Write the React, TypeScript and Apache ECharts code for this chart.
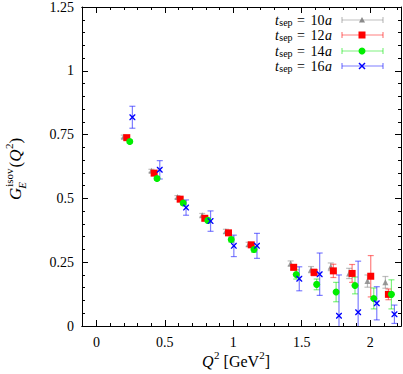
import React, { useEffect, useRef } from "react";
import * as echarts from "echarts";

// ---- data ----
const SERIES_NAMES = ["10", "12", "14", "16"];

const X10 = [0.200, 0.402, 0.592, 0.773, 0.946, 1.112, 1.419, 1.568, 1.712, 1.846, 1.980, 2.111];
const Y10 = [0.742, 0.608, 0.505, 0.434, 0.371, 0.320, 0.245, 0.221, 0.232, 0.206, 0.176, 0.171];
const E10 = [0.006, 0.006, 0.006, 0.007, 0.008, 0.008, 0.010, 0.012, 0.015, 0.020, 0.024, 0.023];

const X12 = [0.222, 0.422, 0.612, 0.792, 0.965, 1.131, 1.441, 1.590, 1.731, 1.868, 2.004, 2.133];
const Y12 = [0.738, 0.599, 0.497, 0.422, 0.365, 0.318, 0.230, 0.210, 0.216, 0.206, 0.195, 0.124];
const E12 = [0.005, 0.005, 0.006, 0.007, 0.008, 0.009, 0.010, 0.013, 0.026, 0.035, 0.081, 0.021];

const X14 = [0.244, 0.443, 0.634, 0.814, 0.985, 1.151, 1.460, 1.609, 1.751, 1.889, 2.026, 2.155];
const Y14 = [0.723, 0.578, 0.482, 0.414, 0.339, 0.300, 0.202, 0.163, 0.133, 0.159, 0.108, 0.124];
const E14 = [0.006, 0.007, 0.008, 0.009, 0.010, 0.011, 0.018, 0.021, 0.038, 0.033, 0.041, 0.057];

const X16 = [0.263, 0.463, 0.655, 0.834, 1.004, 1.173, 1.482, 1.631, 1.772, 1.912, 2.048, 2.177];
const Y16 = [0.818, 0.612, 0.464, 0.411, 0.314, 0.314, 0.185, 0.203, 0.040, 0.054, 0.089, 0.046];
const E16 = [0.043, 0.036, 0.030, 0.040, 0.042, 0.049, 0.047, 0.083, 0.160, 0.200, 0.065, 0.036];

const X_MAJOR = [0, 0.5, 1, 1.5, 2];
const X_MINOR = [0.1, 0.2, 0.3, 0.4, 0.6, 0.7, 0.8, 0.9, 1.1, 1.2, 1.3, 1.4, 1.6, 1.7, 1.8, 1.9, 2.1, 2.2];

const FONT = "Liberation Serif";

const X_STAR = "path://M0,0L1.6,0L5,3.4L8.4,0L10,0L10,1.6L6.6,5L10,8.4L10,10L8.4,10L5,6.6L1.6,10L0,10L0,8.4L3.4,5L0,1.6Z";

const STYLES = [
  { color: "#8a8a8a", err: "rgba(128,128,128,0.5)", symbol: "triangle", size: 6 },
  { color: "#ff0000", err: "rgba(255,0,0,0.5)", symbol: "rect", size: 7 },
  { color: "#00ee00", err: "rgba(0,230,0,0.5)", symbol: "circle", size: 7 },
  { color: "#0000ff", err: "rgba(40,40,255,0.6)", symbol: X_STAR, size: 6 },
];

const DATA = [
  [X10, Y10, E10],
  [X12, Y12, E12],
  [X14, Y14, E14],
  [X16, Y16, E16],
];

type Piece = { t: string; s: number; it?: boolean; dy?: number; gap?: number };

export default function App() {
  const ref = useRef<HTMLDivElement>(null);
  useEffect(() => {
    if (!ref.current) return;
    const chart = echarts.init(ref.current, null, { renderer: "svg" });
    const XMIN = -0.105;
    const XMAX = 2.225;

    const cv = document.createElement("canvas");
    const ctx = cv.getContext("2d")!;
    const measure = (p: Piece) => {
      ctx.font = `${p.it ? "italic " : ""}${p.s}px "${FONT}"`;
      return ctx.measureText(p.t).width;
    };
    const textEl = (p: Piece, x: number, y: number) => ({
      type: "text",
      x,
      y: y + (p.dy || 0),
      style: {
        text: p.t,
        fontFamily: FONT,
        fontSize: p.s,
        fontStyle: p.it ? "italic" : "normal",
        fill: "#000",
        align: "left",
        verticalAlign: "middle",
      },
    });
    const layout = (pieces: Piece[], x0: number, y: number, align: "left" | "right" | "center") => {
      const widths = pieces.map((p) => measure(p) + (p.gap || 0));
      const total = widths.reduce((a, b) => a + b, 0);
      let x = align === "left" ? x0 : align === "right" ? x0 - total : x0 - total / 2;
      const els: any[] = [];
      pieces.forEach((p, i) => {
        els.push(textEl(p, x, y));
        x += widths[i];
      });
      return els;
    };

    const baseX = (extra: any) => ({
      type: "value",
      min: XMIN,
      max: XMAX,
      splitLine: { show: false },
      axisLine: { show: true, onZero: false, lineStyle: { color: "#000", width: 1 } },
      ...extra,
    });
    const xAxes = [
      baseX({
        position: "bottom",
        axisTick: { show: true, inside: true, length: 6, customValues: X_MAJOR, lineStyle: { color: "#000" } },
        axisLabel: { show: true, customValues: X_MAJOR, fontFamily: FONT, fontSize: 14, color: "#000", margin: 9 },
      }),
      baseX({
        position: "bottom",
        axisTick: { show: true, inside: true, length: 3, customValues: X_MINOR, lineStyle: { color: "#000" } },
        axisLabel: { show: false },
      }),
      baseX({
        position: "top",
        axisTick: { show: true, inside: true, length: 6, customValues: X_MAJOR, lineStyle: { color: "#000" } },
        axisLabel: { show: false },
      }),
      baseX({
        position: "top",
        axisTick: { show: true, inside: true, length: 3, customValues: X_MINOR, lineStyle: { color: "#000" } },
        axisLabel: { show: false },
      }),
    ];
    const baseY = (pos: string, label: boolean) => ({
      type: "value",
      position: pos,
      min: 0,
      max: 1.25,
      interval: 0.25,
      splitLine: { show: false },
      axisLine: { show: true, onZero: false, lineStyle: { color: "#000", width: 1 } },
      axisTick: { show: true, inside: true, length: 6, lineStyle: { color: "#000" } },
      minorTick: { show: true, splitNumber: 5, length: 3, lineStyle: { color: "#000" } },
      axisLabel: { show: label, fontFamily: FONT, fontSize: 14, color: "#000", margin: 8 },
    });

    const series: any[] = [];
    DATA.forEach(([xs, ys, es], i) => {
      const st = STYLES[i];
      series.push({
        type: "custom",
        xAxisIndex: 0,
        yAxisIndex: 0,
        clip: true,
        data: xs.map((x, k) => [x, ys[k], es[k]]),
        encode: { x: 0, y: 1 },
        renderItem: (params: any, api: any) => {
          const x = api.value(0);
          const y = api.value(1);
          const e = api.value(2);
          const top = api.coord([x, y + e]);
          const bot = api.coord([x, y - e]);
          const cap = 3;
          const style = { stroke: st.err, lineWidth: 1.2 };
          return {
            type: "group",
            children: [
              { type: "line", shape: { x1: top[0], y1: top[1], x2: bot[0], y2: bot[1] }, style },
              { type: "line", shape: { x1: top[0] - cap, y1: top[1], x2: top[0] + cap, y2: top[1] }, style },
              { type: "line", shape: { x1: bot[0] - cap, y1: bot[1], x2: bot[0] + cap, y2: bot[1] }, style },
            ],
          };
        },
        z: 2,
      });
      series.push({
        type: "scatter",
        name: SERIES_NAMES[i],
        xAxisIndex: 0,
        yAxisIndex: 0,
        data: xs.map((x, k) => [x, ys[k]]),
        symbol: st.symbol,
        symbolSize: st.size,
        itemStyle: { color: st.color, opacity: i === 0 ? 0.85 : 1 },
        z: 3,
      });
    });

    const legendYs = [20, 35, 51, 66];
    const graphics: any[] = [];
    SERIES_NAMES.forEach((nm, i) => {
      const st = STYLES[i];
      const y = legendYs[i];
      graphics.push(
        ...layout(
          [
            { t: "t", s: 14, it: true, gap: 0.5 },
            { t: "sep", s: 10, dy: 2.5, gap: 1 },
            { t: " =", s: 14, gap: 2 },
            { t: ` ${nm}`, s: 14, gap: 0.5 },
            { t: "a", s: 14, it: true },
          ],
          332,
          y,
          "right"
        )
      );
      const ls = { stroke: st.err, lineWidth: 1.2 };
      graphics.push({ type: "line", shape: { x1: 342, y1: y, x2: 383, y2: y }, style: ls });
      graphics.push({ type: "line", shape: { x1: 342, y1: y - 3, x2: 342, y2: y + 3 }, style: ls });
      graphics.push({ type: "line", shape: { x1: 383, y1: y - 3, x2: 383, y2: y + 3 }, style: ls });
    });
    const mx = 362;
    graphics.push({ type: "polygon", shape: { points: [[mx, legendYs[0] - 3], [mx + 3, legendYs[0] + 2.5], [mx - 3, legendYs[0] + 2.5]] }, style: { fill: STYLES[0].color } });
    graphics.push({ type: "rect", shape: { x: mx - 3.5, y: legendYs[1] - 3.5, width: 7, height: 7 }, style: { fill: STYLES[1].color } });
    graphics.push({ type: "circle", shape: { cx: mx, cy: legendYs[2], r: 3.5 }, style: { fill: STYLES[2].color } });
    graphics.push({ type: "line", shape: { x1: mx - 3, y1: legendYs[3] - 3, x2: mx + 3, y2: legendYs[3] + 3 }, style: { stroke: STYLES[3].color, lineWidth: 1.5 } });
    graphics.push({ type: "line", shape: { x1: mx - 3, y1: legendYs[3] + 3, x2: mx + 3, y2: legendYs[3] - 3 }, style: { stroke: STYLES[3].color, lineWidth: 1.5 } });

    // x axis name
    graphics.push(
      ...layout(
        [
          { t: "Q", s: 16, it: true, gap: 0.5 },
          { t: "2", s: 11, dy: -6 },
          { t: " [GeV", s: 16 },
          { t: "2", s: 11, dy: -6 },
          { t: "]", s: 16 },
        ],
        236,
        361,
        "center"
      )
    );

    // y axis name (rotated group; local x runs upward on screen)
    const gP: Piece = { t: "G", s: 17, it: true };
    const isovP: Piece = { t: "isov", s: 11, dy: -6.5 };
    const eP: Piece = { t: "E", s: 11, it: true, dy: 6.5 };
    const wG = measure(gP);
    const wStack = Math.max(measure(isovP) + 1, measure(eP));
    const yChildren: any[] = [
      textEl(gP, 0, 0),
      textEl(isovP, wG + 1, 0),
      textEl(eP, wG - 1, 0),
      ...layout(
        [
          { t: "(", s: 17 },
          { t: "Q", s: 17, it: true, gap: 0.5 },
          { t: "2", s: 11, dy: -6 },
          { t: ")", s: 17 },
        ],
        wG + wStack + 1,
        0,
        "left"
      ),
    ];
    graphics.push({
      type: "group",
      x: 15,
      y: 200,
      rotation: Math.PI / 2,
      children: yChildren,
    });

    chart.setOption({
      animation: false,
      backgroundColor: "#fff",
      grid: { left: 82, right: 2, top: 6, bottom: 48, containLabel: false },
      xAxis: xAxes,
      yAxis: [baseY("left", true), baseY("right", false)],
      series,
      graphic: graphics,
    });
    return () => chart.dispose();
  }, []);
  return <div ref={ref} style={{ position: "fixed", left: 0, top: 0, width: 403, height: 374, background: "#fff" }} />;
}
